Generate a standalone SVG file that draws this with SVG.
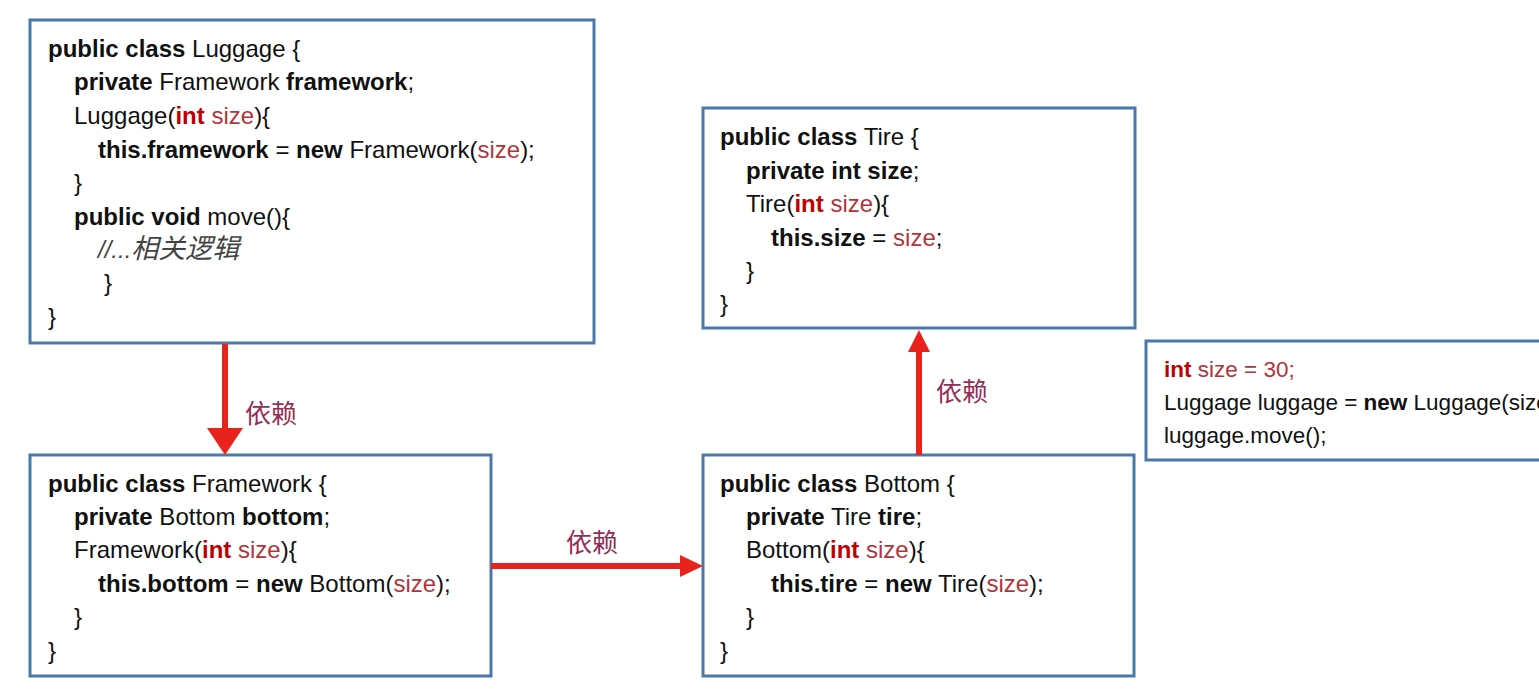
<svg xmlns="http://www.w3.org/2000/svg" width="1539" height="691" viewBox="0 0 1539 691">
  <defs>
    <style>
      .box { fill: #ffffff; stroke: #4a78aa; stroke-width: 3; }
      .code { font-family: "Liberation Sans", Arial, sans-serif; font-size: 24px; fill: #111111; }
      .small { font-size: 22.5px; }
      .b { font-weight: 700; }
      .kw { fill: #c00000; font-weight: 700; }
      .var { fill: #b3333a; }
      .cmt { font-style: italic; fill: #444444; }
      .cjk { font-family: "Noto Sans CJK SC", "Liberation Sans", sans-serif; }
      .label { font-family: "Noto Sans CJK SC", sans-serif; font-size: 26px; fill: #942d55; }
      .shaft { stroke: #e8231b; stroke-width: 6; fill: none; }
      .head { fill: #e8231b; }
    </style>
  </defs>
  <rect width="1539" height="691" fill="#ffffff"/>

  <!-- class Luggage -->
  <g id="luggage">
    <rect class="box" x="30" y="20" width="564" height="323"/>
    <text class="code">
      <tspan x="48" y="57"><tspan class="b">public class</tspan> Luggage {</tspan>
      <tspan x="74" y="90"><tspan class="b">private</tspan> Framework <tspan class="b">framework</tspan>;</tspan>
      <tspan x="74" y="124">Luggage(<tspan class="kw">int</tspan> <tspan class="var">size</tspan>){</tspan>
      <tspan x="98" y="158"><tspan class="b">this.framework</tspan> = <tspan class="b">new</tspan> Framework(<tspan class="var">size</tspan>);</tspan>
      <tspan x="74" y="191">}</tspan>
      <tspan x="74" y="225"><tspan class="b">public void</tspan> move(){</tspan>
      <tspan x="98" y="258" class="cmt">//...<tspan class="cjk" font-size="27">相关逻辑</tspan></tspan>
      <tspan x="104" y="291">}</tspan>
      <tspan x="48" y="325">}</tspan>
    </text>
  </g>

  <!-- class Framework -->
  <g id="framework">
    <rect class="box" x="30" y="455" width="461" height="221"/>
    <text class="code">
      <tspan x="48" y="492"><tspan class="b">public class</tspan> Framework {</tspan>
      <tspan x="74" y="525"><tspan class="b">private</tspan> Bottom <tspan class="b">bottom</tspan>;</tspan>
      <tspan x="74" y="558">Framework(<tspan class="kw">int</tspan> <tspan class="var">size</tspan>){</tspan>
      <tspan x="98" y="592"><tspan class="b">this.bottom</tspan> = <tspan class="b">new</tspan> Bottom(<tspan class="var">size</tspan>);</tspan>
      <tspan x="74" y="625">}</tspan>
      <tspan x="48" y="659">}</tspan>
    </text>
  </g>

  <!-- class Bottom -->
  <g id="bottom">
    <rect class="box" x="703" y="455" width="431" height="221"/>
    <text class="code">
      <tspan x="720" y="492"><tspan class="b">public class</tspan> Bottom {</tspan>
      <tspan x="746" y="525"><tspan class="b">private</tspan> Tire <tspan class="b">tire</tspan>;</tspan>
      <tspan x="746" y="558">Bottom(<tspan class="kw">int</tspan> <tspan class="var">size</tspan>){</tspan>
      <tspan x="771" y="592"><tspan class="b">this.tire</tspan> = <tspan class="b">new</tspan> Tire(<tspan class="var">size</tspan>);</tspan>
      <tspan x="746" y="625">}</tspan>
      <tspan x="720" y="659">}</tspan>
    </text>
  </g>

  <!-- class Tire -->
  <g id="tire">
    <rect class="box" x="703" y="108" width="432" height="220"/>
    <text class="code">
      <tspan x="720" y="145"><tspan class="b">public class</tspan> Tire {</tspan>
      <tspan x="746" y="179"><tspan class="b">private int size</tspan>;</tspan>
      <tspan x="746" y="212">Tire(<tspan class="kw">int</tspan> <tspan class="var">size</tspan>){</tspan>
      <tspan x="771" y="246"><tspan class="b">this.size</tspan> = <tspan class="var">size</tspan>;</tspan>
      <tspan x="746" y="279">}</tspan>
      <tspan x="720" y="312">}</tspan>
    </text>
  </g>

  <!-- usage snippet (runs past the right edge of the page) -->
  <g id="usage">
    <rect class="box" x="1146" y="341" width="420" height="119"/>
    <text class="code small">
      <tspan x="1164" y="377"><tspan class="kw">int</tspan> <tspan class="var">size = 30;</tspan></tspan>
      <tspan x="1164" y="410">Luggage luggage = <tspan class="b">new</tspan> Luggage(size);</tspan>
      <tspan x="1164" y="443">luggage.move();</tspan>
    </text>
  </g>

  <!-- dependency arrows -->
  <g id="connectors">
    <line class="shaft" x1="225" y1="344" x2="225" y2="430"/>
    <polygon class="head" points="207,428 243,428 225,455"/>
    <text class="label" x="245" y="423">依赖</text>

    <line class="shaft" x1="491" y1="566" x2="684" y2="566"/>
    <polygon class="head" points="680,555 680,577 703,566"/>
    <text class="label" x="566" y="552">依赖</text>

    <line class="shaft" x1="919" y1="455" x2="919" y2="348"/>
    <polygon class="head" points="908,352 930,352 919,330"/>
    <text class="label" x="936" y="401">依赖</text>
  </g>
</svg>
